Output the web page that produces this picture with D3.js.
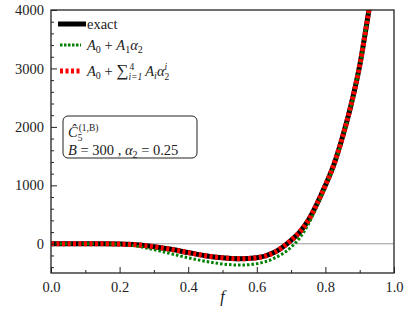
<!DOCTYPE html>
<head>
<meta charset="utf-8">
<script src="https://d3js.org/d3.v7.min.js"></script>
<style>
  body { margin: 0; background: #fff; }
  svg text { font-family: "Liberation Serif", "DejaVu Serif", serif; fill: #222; white-space: pre; }
</style>
</head>
<body>
<svg id="chart" width="407" height="313"></svg>
<script>
// values
var fVals   = [0, 0.05, 0.1, 0.15, 0.2, 0.25, 0.3, 0.35, 0.4, 0.45, 0.5, 0.55, 0.6, 0.65, 0.7, 0.725, 0.75, 0.775, 0.8, 0.825, 0.85, 0.875, 0.9, 0.925, 0.935];
var exact   = [0, 0, 0, 0, -5, -18, -50, -95, -150, -205, -240, -256, -240, -150, 60, 200, 400, 680, 1000, 1360, 1830, 2380, 3050, 3930, 4300];
var firstOrd = [0, 0, 0, -2, -10, -40, -100, -170, -240, -300, -345, -365, -340, -250, -60, 100, 330, 640, 980, 1340, 1810, 2365, 3040, 3930, 4300];
var fourthOrd = [0, 0, 0, 0, -5, -18, -50, -95, -150, -205, -240, -256, -240, -150, 60, 200, 400, 680, 1000, 1360, 1830, 2380, 3050, 3930, 4300];
var xTicks = [0, 0.2, 0.4, 0.6, 0.8, 1.0];
var yTicks = [0, 1000, 2000, 3000, 4000];

var svg = d3.select("#chart");
var pl = 51, pr = 394, pt = 10, pb = 273;

var x = d3.scaleLinear().domain([0, 1]).range([pl, pr]);
var y = d3.scaleLinear().domain([-500, 4000]).range([pb, pt]);

svg.append("defs").append("clipPath").attr("id", "clip")
  .append("rect").attr("x", pl).attr("y", pt)
  .attr("width", pr - pl).attr("height", pb - pt);

// zero line
svg.append("line")
  .attr("x1", pl).attr("x2", pr)
  .attr("y1", y(0)).attr("y2", y(0))
  .style("stroke", "#999").style("stroke-width", 1);

var line = d3.line().curve(d3.curveMonotoneX);
function pts(vals) { return fVals.map(function (f, i) { return [x(f), y(vals[i])]; }); }

var g = svg.append("g").attr("clip-path", "url(#clip)");
g.append("path").attr("d", line(pts(exact)))
  .style("fill", "none").style("stroke", "#000").style("stroke-width", 5);
g.append("path").attr("d", line(pts(firstOrd)))
  .style("fill", "none").style("stroke", "#008000").style("stroke-width", 3)
  .style("stroke-dasharray", "2.5,2");
g.append("path").attr("d", line(pts(fourthOrd)))
  .style("fill", "none").style("stroke", "#ff0000").style("stroke-width", 5)
  .style("stroke-dasharray", "3,2.5");

// axes
var xAxis = d3.axisBottom(x).tickValues(xTicks).tickSize(-6).tickPadding(9)
  .tickFormat(d3.format(".1f"));
var xMinor = d3.axisBottom(x).tickValues(d3.range(0.1, 1, 0.2)).tickSize(-3).tickFormat("");
var yAxis = d3.axisLeft(y).tickValues(yTicks).tickSize(-6).tickPadding(7)
  .tickFormat(d3.format("d"));
var yMinor = d3.axisLeft(y).tickValues(d3.range(-400, 4000, 200).filter(function (v) { return v % 1000 !== 0; }))
  .tickSize(-3).tickFormat("");

function styleAxis(sel) {
  sel.attr("font-family", null);
  sel.select(".domain").remove();
  sel.selectAll("line").style("stroke", "#222");
  sel.selectAll("text").style("font-size", "14.5px");
}
svg.append("g").attr("transform", "translate(0," + pb + ")").call(xAxis).call(styleAxis);
svg.append("g").attr("transform", "translate(0," + pb + ")").call(xMinor).call(styleAxis);
svg.append("g").attr("transform", "translate(" + pl + ",0)").call(yAxis).call(styleAxis);
svg.append("g").attr("transform", "translate(" + pl + ",0)").call(yMinor).call(styleAxis);

svg.append("rect").attr("x", pl).attr("y", pt)
  .attr("width", pr - pl).attr("height", pb - pt)
  .style("fill", "none").style("stroke", "#222").style("stroke-width", 1.3);

svg.append("text").attr("x", (pl + pr) / 2).attr("y", 302)
  .attr("text-anchor", "middle").style("font-size", "16px").style("font-style", "italic")
  .text("f");

// small helper: place text pieces one after another, measuring each
function mathRow(parent, x0, y0, parts) {
  var cx = x0;
  parts.forEach(function (p) {
    var t = parent.append("text").attr("x", cx + (p.dx || 0)).attr("y", y0 + (p.dy || 0))
      .style("font-size", (p.size || 14.5) + "px")
      .style("font-style", p.it ? "italic" : "normal")
      .text(p.s);
    var w = t.node().getComputedTextLength();
    if (p.sup) {
      var s1 = parent.append("text").attr("x", cx + w + (p.supdx || 0)).attr("y", y0 - 6)
        .style("font-size", "9.5px").style("font-style", p.sup.it ? "italic" : "normal").text(p.sup.s);
      var s2 = parent.append("text").attr("x", cx + w + (p.subdx || 0)).attr("y", y0 + 4)
        .style("font-size", "9.5px").style("font-style", p.sub.it ? "italic" : "normal").text(p.sub.s);
      w += Math.max(s1.node().getComputedTextLength() + (p.supdx || 0),
                    s2.node().getComputedTextLength() + (p.subdx || 0));
    } else if (p.sub) {
      var s3 = parent.append("text").attr("x", cx + w).attr("y", y0 + 3)
        .style("font-size", "10px").style("font-style", p.sub.it ? "italic" : "normal").text(p.sub.s);
      w += s3.node().getComputedTextLength();
    }
    cx += w + (p.after || 0);
  });
}

// legend
var lg = svg.append("g");
lg.append("line").attr("x1", 58).attr("x2", 86).attr("y1", 24).attr("y2", 24)
  .style("stroke", "#000").style("stroke-width", 5);
lg.append("line").attr("x1", 60).attr("x2", 81).attr("y1", 45).attr("y2", 45)
  .style("stroke", "#008000").style("stroke-width", 3).style("stroke-dasharray", "2.5,1.5");
lg.append("line").attr("x1", 60).attr("x2", 82).attr("y1", 71).attr("y2", 71)
  .style("stroke", "#ff0000").style("stroke-width", 5).style("stroke-dasharray", "3,2.5");

lg.append("text").attr("x", 87).attr("y", 29).style("font-size", "14.5px").text("exact");

mathRow(lg, 87, 50, [
  { s: "A", it: true, sub: { s: "0" } },
  { s: " + " },
  { s: "A", it: true, sub: { s: "1" } },
  { s: "α", it: true, sub: { s: "2" } }
]);
mathRow(lg, 87, 76, [
  { s: "A", it: true, sub: { s: "0" } },
  { s: " + " },
  { s: "∑", size: 17, sup: { s: "4" }, sub: { s: "i=1", it: true }, supdx: 1, after: 3 },
  { s: "A", it: true, sub: { s: "i", it: true } },
  { s: "α", it: true, sup: { s: "i", it: true }, sub: { s: "2" } }
]);

// annotation box
var bx = svg.append("g");
bx.append("rect").attr("x", 63).attr("y", 116).attr("width", 134).attr("height", 42)
  .attr("rx", 5).style("fill", "#fff").style("stroke", "#222").style("stroke-width", 1);
mathRow(bx, 68, 137, [
  { s: "Ĉ", it: true, sup: { s: "(1,B)" }, sub: { s: "5" }, supdx: 1 }
]);
mathRow(bx, 68, 155, [
  { s: "B", it: true },
  { s: " = 300 , " },
  { s: "α", it: true, sub: { s: "2" } },
  { s: " = 0.25" }
]);
</script>
</body>
